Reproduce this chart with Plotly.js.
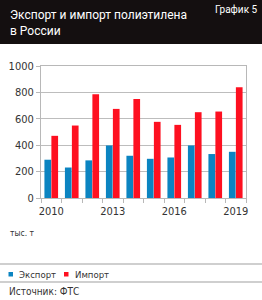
<!DOCTYPE html>
<html>
<head>
<meta charset="utf-8">
<script src="https://cdn.plot.ly/plotly-3.0.1.min.js"></script>
<style>
html,body{margin:0;padding:0;background:#fff;}
#chart{width:262px;height:300px;}
</style>
</head>
<body>
<div id="chart"></div>
<script>
const years = [2010, 2011, 2012, 2013, 2014, 2015, 2016, 2017, 2018, 2019];
const exportVals = [290, 231, 285, 398, 320, 297, 307, 398, 333, 350];
const importVals = [471, 549, 786, 675, 750, 577, 554, 650, 655, 839];
const xTickVals = [2010, 2013, 2016, 2019];
const yTickVals = [0, 200, 400, 600, 800, 1000];
const titleText = "Экспорт и импорт полиэтилена<br>в России";
const chartNo = "График 5";
const unitText = "тыс. т";
const sourceText = "Источник: ФТС";
const seriesNames = ["Экспорт", "Импорт"];
const seriesColors = ['#0b84c1', '#fe1020'];

const FONT = "'DejaVu Sans Condensed', 'Liberation Sans', sans-serif";
const TFONT = "Roboto, 'DejaVu Sans Condensed', sans-serif";
const L = 41, R = 16, T = 66, B = 102, W = 262, H = 300;
const pw = W - L - R, ph = H - T - B;
const px = x => (x - L) / pw;
const py = y => (H - B - y) / ph;

const data = [
  {type: 'bar', x: years, y: exportVals, name: seriesNames[0], marker: {color: seriesColors[0]}},
  {type: 'bar', x: years, y: importVals, name: seriesNames[1], marker: {color: seriesColors[1]}}
];

// legend drawn as squares + labels
const legendX = [8.5, 64];
const legendShapes = seriesNames.map((n, i) => ({
  type: 'rect', xref: 'paper', yref: 'paper',
  x0: px(legendX[i]), x1: px(legendX[i] + 4.5), y0: py(276.5), y1: py(272),
  fillcolor: seriesColors[i], line: {width: 0}
}));
const legendLabels = seriesNames.map((n, i) => ({
  text: n, xref: 'paper', yref: 'paper', x: px(legendX[i] + 8.5), y: py(274.5),
  xanchor: 'left', yanchor: 'middle', showarrow: false,
  font: {family: FONT, size: 9.5, color: '#333333'}
}));

const layout = {
  width: W, height: H,
  margin: {l: L, r: R, t: T, b: B, pad: 0},
  paper_bgcolor: '#ffffff', plot_bgcolor: '#ffffff',
  font: {family: FONT, color: '#333333', size: 11},
  barmode: 'group', bargap: 0.32, bargroupgap: 0.04,
  showlegend: false,
  xaxis: {
    range: [2009.5, 2019.5], tickvals: xTickVals, ticks: '', showgrid: false,
    showline: true, linecolor: '#b8b8b8', linewidth: 1, mirror: true, zeroline: false,
    tickfont: {family: FONT, size: 11, color: '#333333'}, ticklabelstandoff: 3,
    minor: {tick0: 2009.5, dtick: 1, ticks: 'outside', ticklen: 4, tickcolor: '#b8b8b8', showgrid: false},
    fixedrange: true
  },
  yaxis: {
    range: [0, 1000], tickvals: yTickVals, showgrid: true, gridcolor: '#bdbdbd', gridwidth: 1,
    showline: true, linecolor: '#b8b8b8', linewidth: 1, mirror: true, zeroline: false,
    ticks: 'outside', ticklen: 4, tickcolor: '#b8b8b8',
    tickfont: {family: FONT, size: 11, color: '#333333'}, fixedrange: true
  },
  shapes: [
    {type: 'rect', xref: 'paper', yref: 'paper', x0: px(0), x1: px(W), y0: py(44), y1: py(0),
      fillcolor: '#140f10', line: {width: 0}, layer: 'below'},
    {type: 'line', xref: 'paper', yref: 'paper', x0: px(0), x1: px(W), y0: py(264), y1: py(264),
      line: {color: '#cfcfcf', width: 2}},
    {type: 'line', xref: 'paper', yref: 'paper', x0: px(0), x1: px(W), y0: py(282), y1: py(282),
      line: {color: '#cfcfcf', width: 2}}
  ].concat(legendShapes),
  annotations: [
    {text: titleText, xref: 'paper', yref: 'paper', x: px(8), y: py(23), xanchor: 'left', yanchor: 'middle',
      showarrow: false, align: 'left', font: {family: TFONT, size: 12, color: '#ffffff'}},
    {text: chartNo, xref: 'paper', yref: 'paper', x: px(260), y: py(10), xanchor: 'right', yanchor: 'middle',
      showarrow: false, font: {family: TFONT, size: 10, color: '#ffffff'}},
    {text: unitText, xref: 'paper', yref: 'paper', x: px(8), y: py(233), xanchor: 'left', yanchor: 'middle',
      showarrow: false, font: {family: FONT, size: 8.5, color: '#333333'}},
    {text: sourceText, xref: 'paper', yref: 'paper', x: px(7), y: py(291), xanchor: 'left', yanchor: 'middle',
      showarrow: false, font: {family: FONT, size: 10, color: '#333333'}}
  ].concat(legendLabels)
};

Plotly.newPlot('chart', data, layout, {displayModeBar: false, staticPlot: true});
</script>
</body>
</html>
